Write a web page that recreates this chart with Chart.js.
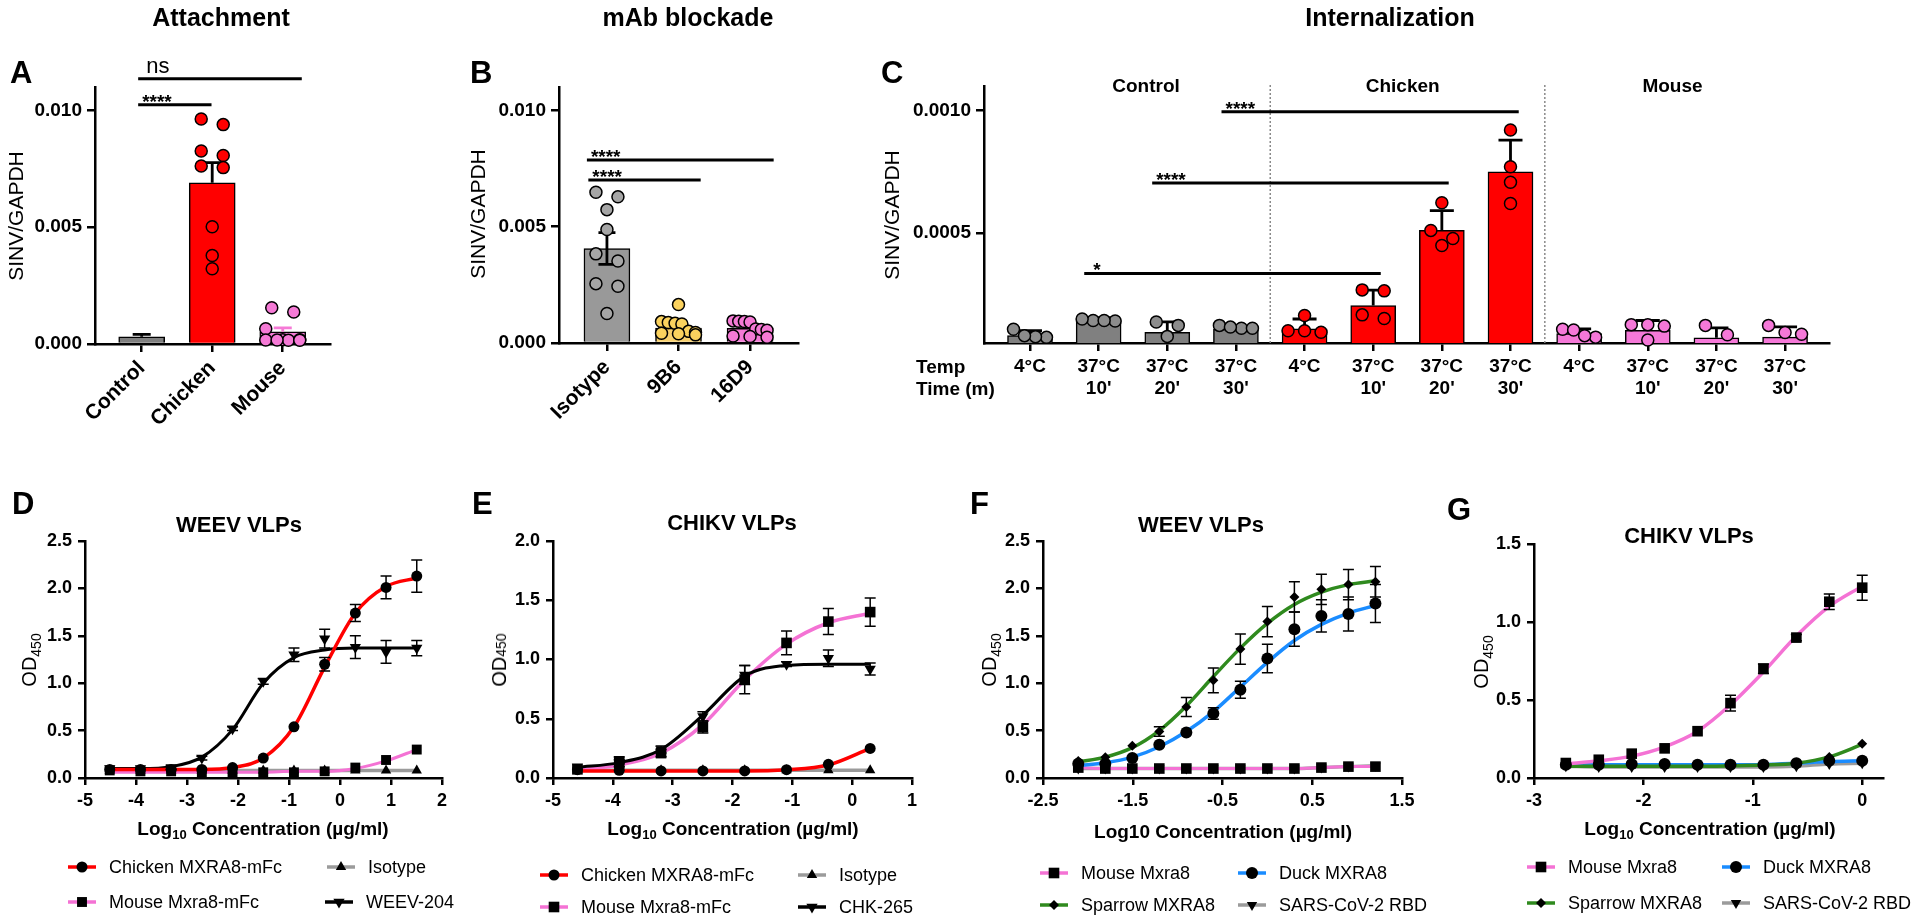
<!DOCTYPE html>
<html>
<head>
<meta charset="utf-8">
<title>MXRA8 binding panels</title>
<script src="https://cdn.jsdelivr.net/npm/chart.js@4.4.1/dist/chart.umd.min.js"></script>
<style>
  body { margin: 0; width: 1920px; height: 922px; position: relative; overflow: hidden; background: #fff;
         font-family: 'Liberation Sans', Arial, sans-serif; color: #000; }
  canvas { position: absolute; left: 0; top: 0; }
  .t { position: absolute; white-space: nowrap; line-height: 1; transform: translate(-50%, -50%); z-index: 5; }
  .l { transform: translate(0, -50%); }
  .v { transform: translate(-50%, -50%) rotate(-90deg); }
  .h1 { font-size: 25px; font-weight: bold; }
  .pl { font-size: 31px; font-weight: bold; }
  .yt { font-size: 21px; }
  .od { font-size: 20px; }
  .od sub { font-size: 14px; vertical-align: -0.3em; }
  .od small { font-size: 14px; }
  .xt { font-size: 19px; font-weight: bold; }
  .xt sub { font-size: 13px; vertical-align: -0.35em; }
  .ct { font-size: 22px; font-weight: bold; }
  .rl { font-size: 19px; font-weight: bold; }
</style>
</head>
<body>
<canvas id="cA" width="1920" height="922"></canvas>
<canvas id="cB" width="1920" height="922"></canvas>
<canvas id="cC" width="1920" height="922"></canvas>
<canvas id="cD" width="1920" height="922"></canvas>
<canvas id="cE" width="1920" height="922"></canvas>
<canvas id="cF" width="1920" height="922"></canvas>
<canvas id="cG" width="1920" height="922"></canvas>

<div class="t h1" style="left:221px;top:17px">Attachment</div>
<div class="t h1" style="left:688px;top:17px">mAb blockade</div>
<div class="t h1" style="left:1390px;top:17px">Internalization</div>

<div class="t l pl" style="left:10px;top:72px">A</div>
<div class="t l pl" style="left:470px;top:72px">B</div>
<div class="t l pl" style="left:881px;top:72px">C</div>
<div class="t l pl" style="left:12px;top:503px">D</div>
<div class="t l pl" style="left:472px;top:503px">E</div>
<div class="t l pl" style="left:970px;top:503px">F</div>
<div class="t l pl" style="left:1447px;top:509px">G</div>

<div class="t v yt" style="left:15px;top:216px">SINV/GAPDH</div>
<div class="t v yt" style="left:477px;top:214px">SINV/GAPDH</div>
<div class="t v yt" style="left:891px;top:215px">SINV/GAPDH</div>

<div class="t l rl" style="left:916px;top:366px">Temp</div>
<div class="t l rl" style="left:916px;top:388px">Time (m)</div>

<div class="t ct" style="left:239px;top:525px">WEEV VLPs</div>
<div class="t ct" style="left:732px;top:523px">CHIKV VLPs</div>
<div class="t ct" style="left:1201px;top:525px">WEEV VLPs</div>
<div class="t ct" style="left:1689px;top:536px">CHIKV VLPs</div>

<div class="t v od" style="left:31px;top:660px">OD<sub>450</sub></div>
<div class="t v od" style="left:499px;top:660px">OD<small>450</small></div>
<div class="t v od" style="left:991px;top:660px">OD<sub>450</sub></div>
<div class="t v od" style="left:1483px;top:662px">OD<sub>450</sub></div>

<div class="t xt" style="left:263px;top:830px">Log<sub>10</sub> Concentration (µg/ml)</div>
<div class="t xt" style="left:733px;top:830px">Log<sub>10</sub> Concentration (µg/ml)</div>
<div class="t xt" style="left:1223px;top:831px">Log10 Concentration (µg/ml)</div>
<div class="t xt" style="left:1710px;top:830px">Log<sub>10</sub> Concentration (µg/ml)</div>

<script>
const FONT = "'Liberation Sans', Arial, sans-serif";
Chart.defaults.font.family = FONT;
Chart.defaults.color = '#000';

// ---------- A: attachment
const catsA = ['Control', 'Chicken', 'Mouse'];
const meanA = [0.00031, 0.0069, 0.00052];
const semA = [0.0001, 0.00086, 0.00017];
const chickenA = [0.00963, 0.00939, 0.00826, 0.00807, 0.00762, 0.00755, 0.00502, 0.00379, 0.00322];
const mouseA = [0.00155, 0.00137, 0.00065, 0.00018, 0.00017, 0.00016, 0.00017, 0.00018, 0.00016];
const sigA = [[-0.05, 0.99, 0.01024, '****'], [-0.05, 2.27, 0.01135, 'ns']];

// ---------- B: mAb blockade
const catsB = ['Isotype', '9B6', '16D9'];
const meanB = [0.00406, 0.00064, 0.00063];
const semB = [0.00068, 0.00012, 0.0001];
const isotypeB = [0.00648, 0.00628, 0.00573, 0.00488, 0.00383, 0.00352, 0.00255, 0.00244, 0.00127];
const mab9B6 = [0.00165, 0.00092, 0.00088, 0.00085, 0.00082, 0.0005, 0.00045, 0.00042, 0.0004, 0.00035];
const mab16D9 = [0.00095, 0.00093, 0.00092, 0.0009, 0.0006, 0.00058, 0.00055, 0.0003, 0.00028, 0.00025];
const sigB = [[-0.28, 2.33, 0.00786, '****'], [-0.26, 1.31, 0.0070, '****']];

// ---------- C: internalization
const tempC = ['4°C', '37°C', '37°C', '37°C', '4°C', '37°C', '37°C', '37°C', '4°C', '37°C', '37°C', '37°C'];
const timeC = ['', "10'", "20'", "30'", '', "10'", "20'", "30'", '', "10'", "20'", "30'"];
const meanC = [0.00008, 0.00015, 0.000094, 0.000107, 0.000108, 0.000203, 0.00051, 0.000749, 0.000088, 0.000102, 0.000071, 0.000074];
const semC = [0.00002, 0.000004, 0.000042, 0.000004, 0.00004, 0.000063, 0.000081, 0.00013, 0.00002, 0.00004, 0.000041, 0.000042];
const ptsC = [
  [0.000073, 0.000106, 0.000076, 0.00008],
  [0.000142, 0.000148, 0.00014, 0.000142],
  [0.000136, 0.000122, 0.000077],
  [0.00011, 0.000122, 0.00011, 0.000115],
  [0.000162, 0.000094, 0.0001, 0.0001],
  [0.000263, 0.000267, 0.00015, 0.000165],
  [0.000623, 0.00051, 0.000448, 0.000477],
  [0.00092, 0.00077, 0.000707, 0.00062],
  [0.000074, 0.000106, 0.00008, 0.000103],
  [0.000125, 0.000119, 0.000125, 0.000062],
  [0.000084, 0.000122],
  [0.000086, 0.000122, 0.000093]
];
const groupsC = ['Control', 'Chicken', 'Mouse'];
const groupAtC = [1.69, 5.43, 9.36];
const sepsC = [3.5, 7.5];
const sigC = [[2.79, 7.12, 0.000995, '****'], [1.78, 6.10, 0.000704, '****'], [0.79, 5.11, 0.000334, '*']];

// ---------- D: WEEV VLPs, mFc proteins
const xD = [-4.515, -3.913, -3.311, -2.709, -2.107, -1.505, -0.903, -0.301, 0.301, 0.903, 1.505];
const chickenD = [0.09, 0.09, 0.09, 0.09, 0.11, 0.21, 0.54, 1.20, 1.74, 2.01, 2.13];
const chickenDErr = [0, 0, 0, 0, 0, 0, 0, 0.07, 0.09, 0.12, 0.17];
const chickenDFit = [0.09, 0.09, 0.09, 0.09, 0.11, 0.21, 0.54, 1.17, 1.74, 2.02, 2.11];
const mouseD = [0.08, 0.07, 0.07, 0.06, 0.06, 0.06, 0.06, 0.07, 0.11, 0.19, 0.30];
const mouseDFit = [0.06, 0.06, 0.06, 0.06, 0.06, 0.06, 0.07, 0.07, 0.10, 0.18, 0.30];
const isoD = [0.08, 0.08, 0.08, 0.08, 0.08, 0.08, 0.08, 0.08, 0.08, 0.08, 0.08];
const weevD = [0.10, 0.10, 0.11, 0.21, 0.52, 1.02, 1.30, 1.47, 1.38, 1.33, 1.37];
const weevDErr = [0, 0, 0.02, 0.02, 0.02, 0.03, 0.07, 0.10, 0.12, 0.12, 0.08];
const weevDFit = [0.10, 0.10, 0.12, 0.22, 0.51, 1.00, 1.27, 1.35, 1.37, 1.37, 1.37];

// ---------- E: CHIKV VLPs, mFc proteins
const xE = [-4.592, -3.893, -3.194, -2.495, -1.796, -1.097, -0.398, 0.301];
const chickenE = [0.07, 0.065, 0.06, 0.06, 0.06, 0.07, 0.115, 0.25];
const chickenEFit = [0.06, 0.06, 0.06, 0.06, 0.06, 0.07, 0.11, 0.25];
const mouseE = [0.073, 0.124, 0.21, 0.43, 0.83, 1.14, 1.32, 1.40];
const mouseEErr = [0, 0.03, 0.03, 0.05, 0.12, 0.10, 0.11, 0.12];
const mouseEFit = [0.07, 0.11, 0.21, 0.45, 0.83, 1.13, 1.31, 1.39];
const isoE = [0.065, 0.065, 0.065, 0.065, 0.065, 0.065, 0.065, 0.065];
const chkE = [0.095, 0.15, 0.24, 0.52, 0.87, 0.96, 1.01, 0.92];
const chkEErr = [0, 0.03, 0.03, 0.04, 0.08, 0.02, 0.07, 0.05];
const chkEFit = [0.09, 0.13, 0.24, 0.53, 0.86, 0.95, 0.96, 0.96];

// ---------- F: WEEV VLPs, MXRA8 orthologs
const xF = [-2.107, -1.806, -1.505, -1.204, -0.903, -0.602, -0.301, 0, 0.301, 0.602, 0.903, 1.204];
const mouseF = [0.11, 0.10, 0.10, 0.10, 0.10, 0.10, 0.10, 0.10, 0.10, 0.11, 0.12, 0.12];
const duckF = [0.15, 0.15, 0.21, 0.35, 0.48, 0.68, 0.93, 1.26, 1.57, 1.71, 1.73, 1.84];
const duckFErr = [0, 0, 0, 0, 0, 0.06, 0.09, 0.15, 0.18, 0.17, 0.18, 0.20];
const duckFFit = [0.13, 0.16, 0.22, 0.33, 0.49, 0.70, 0.96, 1.22, 1.45, 1.62, 1.74, 1.82];
const sparrowF = [0.18, 0.22, 0.34, 0.49, 0.75, 1.03, 1.36, 1.65, 1.91, 1.99, 2.04, 2.07];
const sparrowFErr = [0, 0, 0, 0.05, 0.10, 0.13, 0.16, 0.16, 0.16, 0.16, 0.16, 0.16];
const sparrowFFit = [0.17, 0.22, 0.32, 0.50, 0.76, 1.07, 1.37, 1.63, 1.83, 1.96, 2.04, 2.08];
const sarsF = [0.10, 0.10, 0.10, 0.10, 0.10, 0.10, 0.10, 0.10, 0.10, 0.11, 0.12, 0.13];

// ---------- G: CHIKV VLPs, MXRA8 orthologs
const xG = [-2.709, -2.408, -2.107, -1.806, -1.505, -1.204, -0.903, -0.602, -0.301, 0];
const mouseG = [0.096, 0.117, 0.156, 0.19, 0.30, 0.48, 0.70, 0.90, 1.13, 1.22];
const mouseGErr = [0, 0, 0, 0, 0, 0.05, 0.03, 0.02, 0.05, 0.08];
const mouseGFit = [0.09, 0.11, 0.14, 0.20, 0.30, 0.47, 0.68, 0.91, 1.10, 1.23];
const duckG = [0.085, 0.085, 0.09, 0.09, 0.085, 0.085, 0.085, 0.095, 0.11, 0.11];
const duckGFit = [0.085, 0.085, 0.085, 0.085, 0.085, 0.085, 0.087, 0.095, 0.105, 0.11];
const sparrowG = [0.08, 0.08, 0.08, 0.08, 0.08, 0.08, 0.08, 0.09, 0.135, 0.22];
const sparrowGFit = [0.075, 0.075, 0.075, 0.075, 0.075, 0.078, 0.083, 0.095, 0.135, 0.215];
const sarsG = [0.075, 0.07, 0.07, 0.07, 0.07, 0.07, 0.07, 0.075, 0.09, 0.095];

const RED = '#ff0000', PINK = '#f472d4', GRAY = '#9b9b9b', BLUE = '#1a8cff', GREEN = '#2f8a1e';

// ---------- helpers
const notes = {};
const keys = {};

function axis(o) {
  return {
    type: 'linear', min: o.min, max: o.max, offset: false, beginAtZero: false,
    afterBuildTicks: s => { s.ticks = o.ticks.map(v => ({ value: v })); },
    afterFit: s => { if (s.isHorizontal()) s.height = o.box; else s.width = o.box; },
    border: { display: true, color: '#000', width: 2.5 },
    grid: { drawOnChartArea: false, drawTicks: true, offset: false, color: '#000', lineWidth: 2.5, tickLength: o.tl || 8 },
    ticks: { color: '#000', padding: o.pad || 5, autoSkip: false, maxRotation: o.rot || 0, minRotation: o.rot || 0,
      font: { family: FONT, weight: 'bold', size: o.size || 19, lineHeight: 1.2 }, callback: o.fmt }
  };
}

// area = [left, top, right, bottom] of the plot box on the page; xs / ys are the axis box sizes
function base(area, xs, ys) {
  return {
    responsive: false, animation: false, events: [],
    layout: { padding: { left: area[0] - ys.box, top: area[1], right: 1920 - area[2], bottom: 922 - area[3] - xs.box } },
    scales: { x: axis(xs), y: axis(ys) },
    plugins: { legend: { display: false }, tooltip: { enabled: false } }
  };
}

function ptsDs(vals, group, color) {
  return { type: 'scatter', vals, group, data: vals.map(v => ({ x: group, y: v })),
    pointRadius: 6, pointHoverRadius: 6, pointBackgroundColor: color, pointBorderColor: '#000', pointBorderWidth: 1.5,
    order: 1, clip: false };
}

function barDs(means, sems, colors, errColors, thick, cap, both) {
  return { type: 'bar', data: means.map((v, i) => ({ x: i, y: v })), backgroundColor: colors,
    borderColor: '#000', borderWidth: 1.5, barThickness: thick, order: 3,
    err: sems, errCap: cap, errWidth: 2.8, errColor: errColors, errBoth: both || false };
}

// spread overlapping dots sideways, row by row, like the original scatter-on-bar layout
function swarm(chart, barW) {
  const xs = chart.scales.x, ys = chart.scales.y;
  const ppu = xs.getPixelForValue(1) - xs.getPixelForValue(0);
  chart.data.datasets.forEach(ds => {
    if (!ds.vals) return;
    const idx = ds.vals.map((v, i) => i).sort((a, b) => ds.vals[b] - ds.vals[a]);
    const rows = [];
    idx.forEach(i => {
      const py = ys.getPixelForValue(ds.vals[i]);
      const row = rows[rows.length - 1];
      if (row && py - row.py < 11) row.items.push(i); else rows.push({ py, items: [i] });
    });
    const off = [];
    rows.forEach(row => {
      const n = row.items.length;
      const sp = n > 1 ? Math.min(22, (barW - 12) / (n - 1)) : 0;
      row.items.forEach((i, k) => { off[i] = (k - (n - 1) / 2) * sp; });
    });
    ds.data = ds.vals.map((v, i) => ({ x: ds.group + off[i] / ppu, y: v }));
  });
  chart.update('none');
}

function marker(ctx, style, x, y, r, rot) {
  ctx.beginPath();
  if (style === 'circle') ctx.arc(x, y, r, 0, Math.PI * 2);
  else if (style === 'rect') { const s = r * Math.SQRT1_2; ctx.rect(x - s, y - s, 2 * s, 2 * s); }
  else if (style === 'rectRot') { ctx.moveTo(x, y - r); ctx.lineTo(x + r, y); ctx.lineTo(x, y + r); ctx.lineTo(x - r, y); ctx.closePath(); }
  else {
    const d = rot ? -1 : 1;
    ctx.moveTo(x, y - d * r); ctx.lineTo(x + r * 0.866, y + d * r / 2); ctx.lineTo(x - r * 0.866, y + d * r / 2); ctx.closePath();
  }
  ctx.fill();
}

const errPlugin = {
  id: 'errBars',
  afterDatasetDraw(chart, args) {
    const ds = chart.data.datasets[args.index];
    if (!ds.err) return;
    const ctx = chart.ctx, xs = chart.scales.x, ys = chart.scales.y;
    ctx.save();
    ctx.lineWidth = ds.errWidth;
    ds.data.forEach((p, i) => {
      const e = ds.err[i];
      if (!e) return;
      const both = Array.isArray(ds.errBoth) ? ds.errBoth[i] : ds.errBoth;
      const x = xs.getPixelForValue(p.x);
      const y0 = ys.getPixelForValue(both ? p.y - e : p.y);
      const y1 = ys.getPixelForValue(p.y + e);
      const c = ds.errCap;
      ctx.strokeStyle = Array.isArray(ds.errColor) ? ds.errColor[i] : (ds.errColor || '#000');
      ctx.beginPath();
      ctx.moveTo(x, y0); ctx.lineTo(x, y1);
      ctx.moveTo(x - c, y1); ctx.lineTo(x + c, y1);
      if (both) { ctx.moveTo(x - c, y0); ctx.lineTo(x + c, y0); }
      ctx.stroke();
    });
    ctx.restore();
  }
};

const notePlugin = {
  id: 'notes',
  afterDraw(chart) {
    const a = notes[chart.canvas.id];
    if (!a) return;
    const ctx = chart.ctx, xs = chart.scales.x, ys = chart.scales.y;
    ctx.save();
    (a.seps || []).forEach(v => {
      const x = xs.getPixelForValue(v);
      ctx.strokeStyle = '#8a8a8a'; ctx.lineWidth = 1.5; ctx.setLineDash([2, 2]);
      ctx.beginPath(); ctx.moveTo(x, chart.chartArea.top - 1); ctx.lineTo(x, chart.chartArea.bottom); ctx.stroke();
    });
    ctx.setLineDash([]);
    (a.groups || []).forEach((g, i) => {
      ctx.fillStyle = '#000'; ctx.font = 'bold 19px ' + FONT; ctx.textAlign = 'center'; ctx.textBaseline = 'middle';
      ctx.fillText(g, xs.getPixelForValue(a.groupAt[i]), chart.chartArea.top + 1);
    });
    (a.sig || []).forEach(s => {
      const x0 = xs.getPixelForValue(s[0]), x1 = xs.getPixelForValue(s[1]), y = ys.getPixelForValue(s[2]);
      ctx.strokeStyle = '#000'; ctx.lineWidth = 3;
      ctx.beginPath(); ctx.moveTo(x0, y); ctx.lineTo(x1, y); ctx.stroke();
      ctx.fillStyle = '#000'; ctx.textAlign = 'left'; ctx.textBaseline = 'alphabetic';
      if (s[3] === 'ns') { ctx.font = '22px ' + FONT; ctx.fillText(s[3], x0 + 8, y - 6); }
      else { ctx.font = 'bold 19px ' + FONT; ctx.fillText(s[3], x0 + (s[3] === '*' ? 9 : 4), y + 3); }
    });
    ctx.restore();
  }
};

const keyPlugin = {
  id: 'keys',
  afterDraw(chart) {
    const k = keys[chart.canvas.id];
    if (!k) return;
    const ctx = chart.ctx;
    ctx.save();
    k.items.forEach((s, i) => {
      const [x, y] = k.pos[i];
      ctx.strokeStyle = s.color; ctx.lineWidth = 3.5;
      ctx.beginPath(); ctx.moveTo(x, y); ctx.lineTo(x + 28, y); ctx.stroke();
      ctx.fillStyle = '#000';
      marker(ctx, s.style, x + 14, y, s.r, s.rot);
      ctx.font = '18px ' + FONT; ctx.textAlign = 'left'; ctx.textBaseline = 'middle';
      ctx.fillText(s.label, x + 41, y + 1);
    });
    ctx.restore();
  }
};

Chart.register(errPlugin, notePlugin, keyPlugin);

const yBar = { min: 0, max: 0.011, ticks: [0, 0.005, 0.01], fmt: v => v.toFixed(3), box: 90 };

// ---------- A
notes.cA = { sig: sigA };
const chA = new Chart(document.getElementById('cA'), {
  type: 'bar',
  data: { datasets: [
    barDs(meanA, semA, ['#7f7f7f', RED, '#f57ad6'], ['#000', '#000', '#f57ad6'], 46, 9),
    ptsDs(chickenA, 1, RED),
    ptsDs(mouseA, 2, '#f57ad6')
  ] },
  options: base([95, 87, 330, 344],
    { min: -0.662, max: 2.67, ticks: [0, 1, 2], fmt: v => catsA[v], rot: 45, size: 21, pad: 4, box: 140 },
    yBar)
});
swarm(chA, 46);

// ---------- B
notes.cB = { sig: sigB };
const chB = new Chart(document.getElementById('cB'), {
  type: 'bar',
  data: { datasets: [
    barDs(meanB, semB, ['#999999', '#f7d06e', '#f57ad6'], '#000', 46, 8.5, [true, false, false]),
    ptsDs(isotypeB, 0, '#a6a6a6'),
    ptsDs(mab9B6, 1, '#fbd25e'),
    ptsDs(mab16D9, 2, '#f57ad6')
  ] },
  options: base([559, 87, 798, 343],
    { min: -0.67, max: 2.67, ticks: [0, 1, 2], fmt: v => catsB[v], rot: 45, size: 21, pad: 4, box: 140 },
    yBar)
});
swarm(chB, 46);

// ---------- C
const colC = meanC.map((v, i) => i < 4 ? '#808080' : i < 8 ? RED : '#f578d8');
const dotC = meanC.map((v, i) => i < 4 ? '#8c8c8c' : i < 8 ? RED : '#f578d8');
notes.cC = { sig: sigC, seps: sepsC, groups: groupsC, groupAt: groupAtC };
const chC = new Chart(document.getElementById('cC'), {
  type: 'bar',
  data: { datasets: [barDs(meanC, semC, colC, '#000', 45, 12)].concat(ptsC.map((p, i) => ptsDs(p, i, dotC[i]))) },
  options: base([984, 86, 1829, 343],
    { min: -0.67, max: 11.64, ticks: tempC.map((t, i) => i),
      fmt: v => timeC[v] ? [tempC[v], timeC[v]] : [tempC[v]], pad: 4, box: 80 },
    { min: 0.00005, max: 0.0011, ticks: [0.0005, 0.001], fmt: v => v.toFixed(4), box: 90 })
});
swarm(chC, 45);

// ---------- D-G curve panels
function curveChart(id, area, xOpt, yOpt, series, pos) {
  const ds = [];
  series.forEach(s => {
    ds.push({ type: 'line', data: s.x.map((x, i) => ({ x, y: s.fit[i] })), borderColor: s.color, borderWidth: s.lw,
      pointRadius: 0, cubicInterpolationMode: 'monotone', fill: false, order: s.lo, clip: false });
    ds.push({ type: 'scatter', data: s.x.map((x, i) => ({ x, y: s.y[i] })), pointStyle: s.style, pointRadius: s.r,
      pointRotation: s.rot || 0, pointBackgroundColor: '#000', pointBorderColor: '#000', pointBorderWidth: 0,
      order: 0, clip: false, err: s.err, errBoth: true, errCap: 5.5, errWidth: 1.5, errColor: '#000' });
  });
  keys[id] = { items: series, pos };
  const xa = Object.assign({ tl: 7, size: 18, pad: 5, box: 60 }, xOpt);
  const ya = Object.assign({ tl: 7, size: 18, pad: 6, box: 80, fmt: v => v.toFixed(1) }, yOpt);
  return new Chart(document.getElementById(id), { type: 'scatter', data: { datasets: ds }, options: base(area, xa, ya) });
}

const intLabel = v => String(v);

curveChart('cD', [85, 541, 442, 778],
  { min: -5, max: 2, ticks: [-5, -4, -3, -2, -1, 0, 1, 2], fmt: intLabel },
  { min: 0, max: 2.5, ticks: [0, 0.5, 1, 1.5, 2, 2.5] },
  [
    { label: 'Chicken MXRA8-mFc', x: xD, y: chickenD, fit: chickenDFit, err: chickenDErr, color: RED, lw: 3.5, lo: 2, style: 'circle', r: 5.5 },
    { label: 'Isotype', x: xD, y: isoD, fit: isoD, err: null, color: GRAY, lw: 3.5, lo: 5, style: 'triangle', r: 6 },
    { label: 'Mouse Mxra8-mFc', x: xD, y: mouseD, fit: mouseDFit, err: null, color: PINK, lw: 3, lo: 4, style: 'rect', r: 7 },
    { label: 'WEEV-204', x: xD, y: weevD, fit: weevDFit, err: weevDErr, color: '#000', lw: 3, lo: 3, style: 'triangle', r: 6.5, rot: 180 }
  ],
  [[68, 867], [327, 867], [68, 902], [325, 902]]);

curveChart('cE', [553, 541, 912, 778],
  { min: -5, max: 1, ticks: [-5, -4, -3, -2, -1, 0, 1], fmt: intLabel },
  { min: 0, max: 2, ticks: [0, 0.5, 1, 1.5, 2] },
  [
    { label: 'Chicken MXRA8-mFc', x: xE, y: chickenE, fit: chickenEFit, err: null, color: RED, lw: 3.5, lo: 2, style: 'circle', r: 5.5 },
    { label: 'Isotype', x: xE, y: isoE, fit: isoE, err: null, color: GRAY, lw: 3.5, lo: 5, style: 'triangle', r: 6 },
    { label: 'Mouse Mxra8-mFc', x: xE, y: mouseE, fit: mouseEFit, err: mouseEErr, color: PINK, lw: 3.5, lo: 4, style: 'rect', r: 7.5 },
    { label: 'CHK-265', x: xE, y: chkE, fit: chkEFit, err: chkEErr, color: '#000', lw: 3, lo: 3, style: 'triangle', r: 6.5, rot: 180 }
  ],
  [[540, 875], [798, 875], [540, 907], [798, 907]]);

curveChart('cF', [1043, 541, 1402, 778],
  { min: -2.5, max: 1.5, ticks: [-2.5, -1.5, -0.5, 0.5, 1.5], fmt: v => v.toFixed(1) },
  { min: 0, max: 2.5, ticks: [0, 0.5, 1, 1.5, 2, 2.5] },
  [
    { label: 'Mouse Mxra8', x: xF, y: mouseF, fit: mouseF, err: null, color: PINK, lw: 3, lo: 3, style: 'rect', r: 7.5 },
    { label: 'Duck MXRA8', x: xF, y: duckF, fit: duckFFit, err: duckFErr, color: BLUE, lw: 3.5, lo: 2, style: 'circle', r: 6 },
    { label: 'Sparrow MXRA8', x: xF, y: sparrowF, fit: sparrowFFit, err: sparrowFErr, color: GREEN, lw: 3.5, lo: 2, style: 'rectRot', r: 5 },
    { label: 'SARS-CoV-2 RBD', x: xF, y: sarsF, fit: sarsF, err: null, color: GRAY, lw: 3.5, lo: 4, style: 'triangle', r: 6, rot: 180 }
  ],
  [[1040, 873], [1238, 873], [1040, 905], [1238, 905]]);

curveChart('cG', [1534, 544, 1883, 778],
  { min: -3, max: 0.19, ticks: [-3, -2, -1, 0], fmt: intLabel },
  { min: 0, max: 1.5, ticks: [0, 0.5, 1, 1.5] },
  [
    { label: 'Mouse Mxra8', x: xG, y: mouseG, fit: mouseGFit, err: mouseGErr, color: PINK, lw: 3.5, lo: 2, style: 'rect', r: 7.5 },
    { label: 'Duck MXRA8', x: xG, y: duckG, fit: duckGFit, err: null, color: BLUE, lw: 3.5, lo: 3, style: 'circle', r: 6 },
    { label: 'Sparrow MXRA8', x: xG, y: sparrowG, fit: sparrowGFit, err: null, color: GREEN, lw: 3.5, lo: 2, style: 'rectRot', r: 5 },
    { label: 'SARS-CoV-2 RBD', x: xG, y: sarsG, fit: sarsG, err: null, color: GRAY, lw: 3.5, lo: 4, style: 'triangle', r: 6, rot: 180 }
  ],
  [[1527, 867], [1722, 867], [1527, 903], [1722, 903]]);
</script>
</body>
</html>
